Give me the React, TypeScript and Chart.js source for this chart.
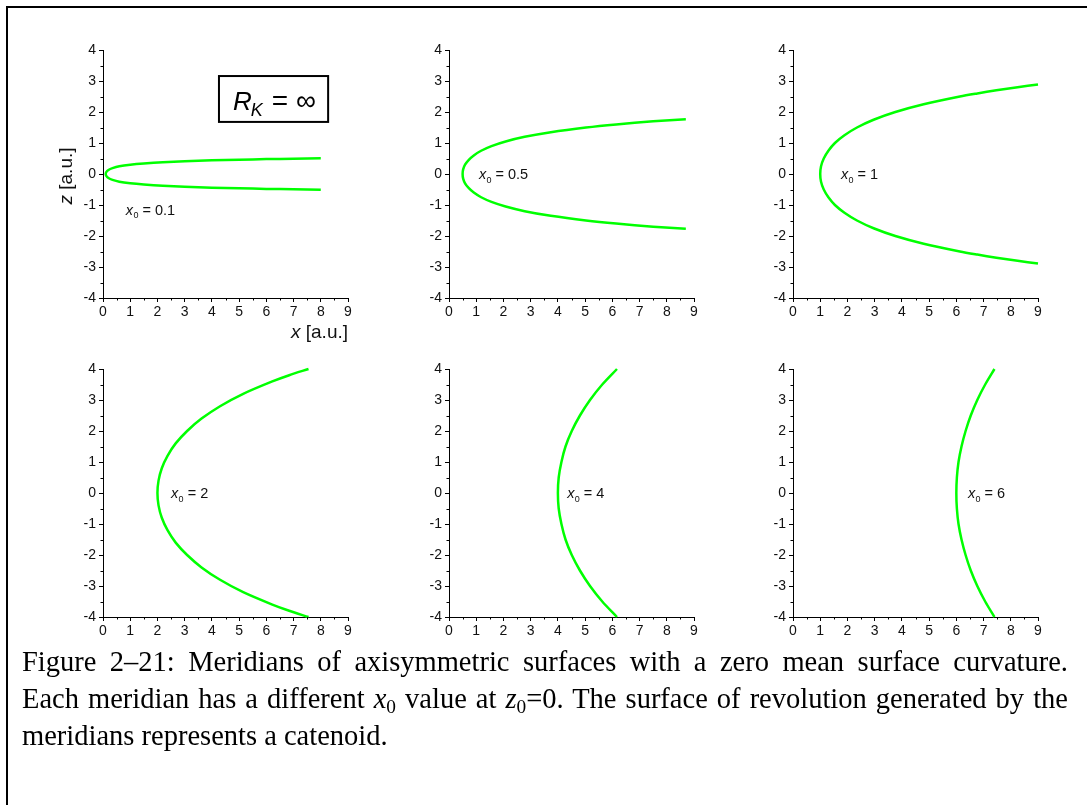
import React, { useEffect, useRef } from 'react';
import { Chart, registerables } from 'chart.js';

Chart.register(...registerables);

// ---------- data ----------
const X_TICKS = [0, 1, 2, 3, 4, 5, 6, 7, 8, 9];
const Z_TICKS = [-4, -3, -2, -1, 0, 1, 2, 3, 4];
const X_MINOR = [0.5, 1.5, 2.5, 3.5, 4.5, 5.5, 6.5, 7.5, 8.5];
const Z_MINOR = [-3.5, -2.5, -1.5, -0.5, 0.5, 1.5, 2.5, 3.5];

// x0 = 0.1
const curve1X = [8.0, 7.0, 6.0, 5.0, 4.0, 3.0, 2.2, 1.5, 1.0, 0.6, 0.35, 0.2, 0.12, 0.1, 0.12, 0.2, 0.35, 0.6, 1.0, 1.5, 2.2, 3.0, 4.0, 5.0, 6.0, 7.0, 8.0];
const curve1Z = [0.51, 0.49, 0.48, 0.46, 0.44, 0.41, 0.38, 0.34, 0.3, 0.25, 0.19, 0.13, 0.06, 0, -0.06, -0.13, -0.19, -0.25, -0.3, -0.34, -0.38, -0.41, -0.44, -0.46, -0.48, -0.49, -0.51];
// x0 = 0.5
const curve2X = [8.7, 7.5, 6.14, 5.03, 3.74, 2.78, 2.08, 1.56, 1.18, 0.91, 0.72, 0.59, 0.52, 0.5, 0.52, 0.59, 0.72, 0.91, 1.18, 1.56, 2.08, 2.78, 3.74, 5.03, 6.14, 7.5, 8.7];
const curve2Z = [1.77, 1.7, 1.6, 1.5, 1.35, 1.2, 1.05, 0.9, 0.75, 0.6, 0.45, 0.3, 0.15, 0, -0.15, -0.3, -0.45, -0.6, -0.75, -0.9, -1.05, -1.2, -1.35, -1.5, -1.6, -1.7, -1.77];
// x0 = 1
const curve3X = [9.0, 8.25, 7.47, 6.77, 6.13, 4.8, 3.76, 2.96, 2.35, 1.89, 1.54, 1.3, 1.13, 1.03, 1.0, 1.03, 1.13, 1.3, 1.54, 1.89, 2.35, 2.96, 3.76, 4.8, 6.13, 6.77, 7.47, 8.25, 9.0];
const curve3Z = [2.89, 2.8, 2.7, 2.6, 2.5, 2.25, 2.0, 1.75, 1.5, 1.25, 1.0, 0.75, 0.5, 0.25, 0, -0.25, -0.5, -0.75, -1.0, -1.25, -1.5, -1.75, -2.0, -2.25, -2.5, -2.6, -2.7, -2.8, -2.89];
// x0 = 2
const curve4X = [7.55, 6.84, 6.22, 5.15, 4.3, 3.62, 3.09, 2.67, 2.37, 2.16, 2.04, 2.0, 2.04, 2.16, 2.37, 2.67, 3.09, 3.62, 4.3, 5.15, 6.22, 6.84, 7.55];
const curve4Z = [4, 3.8, 3.6, 3.2, 2.8, 2.4, 2.0, 1.6, 1.2, 0.8, 0.4, 0, -0.4, -0.8, -1.2, -1.6, -2.0, -2.4, -2.8, -3.2, -3.6, -3.8, -4];
// x0 = 4
const curve5X = [6.17, 5.63, 5.18, 4.81, 4.51, 4.28, 4.13, 4.03, 4.0, 4.03, 4.13, 4.28, 4.51, 4.81, 5.18, 5.63, 6.17];
const curve5Z = [4, 3.5, 3, 2.5, 2, 1.5, 1, 0.5, 0, -0.5, -1, -1.5, -2, -2.5, -3, -3.5, -4];
// x0 = 6
const curve6X = [7.4, 7.06, 6.77, 6.53, 6.34, 6.19, 6.08, 6.02, 6.0, 6.02, 6.08, 6.19, 6.34, 6.53, 6.77, 7.06, 7.4];
const curve6Z = [4, 3.5, 3, 2.5, 2, 1.5, 1, 0.5, 0, -0.5, -1, -1.5, -2, -2.5, -3, -3.5, -4];

const X0_LABELS = ['0.1', '0.5', '1', '2', '4', '6'];
const LABEL_X = [0.84, 1.1, 1.76, 2.5, 4.34, 6.43];
const LABEL_Z = [-1.16, 0, 0, 0, 0, 0];

// R_K box anchor (data units of the first panel)
const RK_BOX = [4.26, 3.16, 8.27, 1.68];

// ---------- layout / style ----------
const GREEN = '#00ff00';
const SANS = '"Liberation Sans", Arial, sans-serif';
const SERIF = '"Liberation Serif", "Times New Roman", serif';
const PLOT_W = 245;
const PLOT_H = 248;
const PAD_L = 62;
const PAD_T = 14;
const PAD_R = 14;
const PAD_B = 46;
const CW = PAD_L + PLOT_W + PAD_R;
const CH = PAD_T + PLOT_H + PAD_B;
const COL_LEFT = [103, 449, 793];
const ROW_TOP = [50, 369];

const minorTicks = {
  id: 'minorTicks',
  afterDraw(chart: any) {
    const { ctx, chartArea, scales } = chart;
    ctx.save();
    ctx.strokeStyle = '#000';
    ctx.lineWidth = 1;
    ctx.beginPath();
    X_MINOR.forEach((v) => {
      const px = Math.round(scales.x.getPixelForValue(v)) + 0.5;
      ctx.moveTo(px, chartArea.bottom);
      ctx.lineTo(px, chartArea.bottom + 2.5);
    });
    Z_MINOR.forEach((v) => {
      const py = Math.round(scales.y.getPixelForValue(v)) + 0.5;
      ctx.moveTo(chartArea.left, py);
      ctx.lineTo(chartArea.left - 2.5, py);
    });
    ctx.stroke();
    ctx.restore();
  },
};

function drawX0(ctx: CanvasRenderingContext2D, px: number, py: number, val: string) {
  ctx.fillStyle = '#111';
  ctx.textBaseline = 'alphabetic';
  ctx.textAlign = 'left';
  ctx.font = `italic 14.5px ${SANS}`;
  ctx.fillText('x', px, py);
  let x = px + ctx.measureText('x').width + 0.3;
  ctx.font = `9px ${SANS}`;
  ctx.fillText('0', x, py + 3.5);
  x += ctx.measureText('0').width;
  ctx.font = `14.5px ${SANS}`;
  ctx.fillText(' = ' + val, x, py);
}

function makeLabelPlugin(idx: number) {
  return {
    id: 'labels' + idx,
    afterDraw(chart: any) {
      const { ctx, chartArea, scales } = chart;
      const sx = scales.x;
      const sy = scales.y;
      ctx.save();
      drawX0(ctx, sx.getPixelForValue(LABEL_X[idx]), sy.getPixelForValue(LABEL_Z[idx]) + 5, X0_LABELS[idx]);
      if (idx === 0) {
        // R_K = infinity box
        const bl = sx.getPixelForValue(RK_BOX[0]);
        const bt = sy.getPixelForValue(RK_BOX[1]);
        const br = sx.getPixelForValue(RK_BOX[2]);
        const bb = sy.getPixelForValue(RK_BOX[3]);
        ctx.fillStyle = '#fff';
        ctx.fillRect(bl, bt, br - bl, bb - bt);
        ctx.strokeStyle = '#000';
        ctx.lineWidth = 2;
        ctx.strokeRect(bl, bt, br - bl, bb - bt);
        ctx.fillStyle = '#000';
        const base = bt + 34;
        let x = bl + 14;
        ctx.font = `italic 26px ${SANS}`;
        ctx.fillText('R', x, base);
        x += ctx.measureText('R').width - 1;
        ctx.font = `italic 18px ${SANS}`;
        ctx.fillText('K', x, base + 6);
        x += ctx.measureText('K').width + 9;
        ctx.font = `28px ${SANS}`;
        ctx.fillText('=', x, base);
        x += ctx.measureText('=').width + 8;
        ctx.fillText('\u221E', x, base);

        // axis titles
        ctx.fillStyle = '#111';
        ctx.font = `italic 19px ${SANS}`;
        const wx = ctx.measureText('x').width;
        ctx.font = `19px ${SANS}`;
        const wr = ctx.measureText(' [a.u.]').width;
        const xs = chartArea.right - wx - wr;
        const xb = chartArea.bottom + 40;
        ctx.font = `italic 19px ${SANS}`;
        ctx.fillText('x', xs, xb);
        ctx.font = `19px ${SANS}`;
        ctx.fillText(' [a.u.]', xs + wx, xb);

        ctx.save();
        ctx.translate(chartArea.left - 31, sy.getPixelForValue(0) + 2);
        ctx.rotate(-Math.PI / 2);
        ctx.font = `italic 19px ${SANS}`;
        const wz = ctx.measureText('z').width;
        ctx.font = `19px ${SANS}`;
        const wr2 = ctx.measureText(' [a.u.]').width;
        const start = -(wz + wr2) / 2;
        ctx.font = `italic 19px ${SANS}`;
        ctx.fillText('z', start, 0);
        ctx.font = `19px ${SANS}`;
        ctx.fillText(' [a.u.]', start + wz, 0);
        ctx.restore();
      }
      ctx.restore();
    },
  };
}

const PANELS = [
  { xs: curve1X, zs: curve1Z, col: 0, row: 0 },
  { xs: curve2X, zs: curve2Z, col: 1, row: 0 },
  { xs: curve3X, zs: curve3Z, col: 2, row: 0 },
  { xs: curve4X, zs: curve4Z, col: 0, row: 1 },
  { xs: curve5X, zs: curve5Z, col: 1, row: 1 },
  { xs: curve6X, zs: curve6Z, col: 2, row: 1 },
];

function Panel({ idx }: { idx: number }) {
  const ref = useRef<HTMLCanvasElement>(null);
  const p = PANELS[idx];
  useEffect(() => {
    const tickFont = { family: SANS, size: 14 };
    const chart = new Chart(ref.current as HTMLCanvasElement, {
      type: 'scatter',
      data: {
        datasets: [
          {
            data: p.xs.map((x, i) => ({ x, y: p.zs[i] })),
            showLine: true,
            borderColor: GREEN,
            backgroundColor: GREEN,
            borderWidth: 2.5,
            pointRadius: 0,
            pointHoverRadius: 0,
            tension: 0.3,
            fill: false,
            clip: 6,
          } as any,
        ],
      },
      options: {
        animation: false,
        responsive: false,
        maintainAspectRatio: false,
        events: [],
        layout: { padding: { top: PAD_T, right: PAD_R, left: 0, bottom: 0 } },
        plugins: { legend: { display: false }, tooltip: { enabled: false } },
        scales: {
          x: {
            type: 'linear',
            position: 'bottom',
            min: X_TICKS[0],
            max: X_TICKS[X_TICKS.length - 1],
            afterBuildTicks: (s: any) => {
              s.ticks = X_TICKS.map((v) => ({ value: v }));
            },
            ticks: { font: tickFont, color: '#111', padding: 2, maxRotation: 0, autoSkip: false },
            grid: { display: true, drawOnChartArea: false, drawTicks: true, tickLength: 4, tickColor: '#000', tickWidth: 1 },
            border: { display: true, color: '#000', width: 1 },
            afterFit: (s: any) => {
              s.height = PAD_B;
            },
          },
          y: {
            type: 'linear',
            position: 'left',
            min: Z_TICKS[0],
            max: Z_TICKS[Z_TICKS.length - 1],
            afterBuildTicks: (s: any) => {
              s.ticks = Z_TICKS.map((v) => ({ value: v }));
            },
            ticks: { font: tickFont, color: '#111', padding: 3, autoSkip: false },
            grid: { display: true, drawOnChartArea: false, drawTicks: true, tickLength: 4, tickColor: '#000', tickWidth: 1 },
            border: { display: true, color: '#000', width: 1 },
            afterFit: (s: any) => {
              s.width = PAD_L;
            },
          },
        },
      } as any,
      plugins: [minorTicks, makeLabelPlugin(idx)],
    });
    return () => chart.destroy();
  }, []);
  return (
    <canvas
      ref={ref}
      width={CW}
      height={CH}
      style={{
        position: 'absolute',
        left: COL_LEFT[p.col] - PAD_L,
        top: ROW_TOP[p.row] - PAD_T,
        width: CW,
        height: CH,
      }}
    />
  );
}

const sub: React.CSSProperties = { fontSize: '0.68em', position: 'relative', top: '0.28em', lineHeight: 0 };

export default function App() {
  const lineStyle: React.CSSProperties = {
    height: 37,
    lineHeight: '37px',
    whiteSpace: 'nowrap',
    textAlign: 'justify',
  };
  return (
    <div
      style={{
        position: 'fixed',
        left: 0,
        top: 0,
        width: 1087,
        height: 805,
        overflow: 'hidden',
        background: '#fff',
      }}
    >
      <div
        style={{
          position: 'absolute',
          left: 6,
          top: 6,
          width: 1200,
          height: 1000,
          borderLeft: '2px solid #000',
          borderTop: '2px solid #000',
        }}
      />
      {PANELS.map((_, i) => (
        <Panel key={i} idx={i} />
      ))}
      <div
        style={{
          position: 'absolute',
          left: 22,
          top: 643,
          width: 1046,
          fontFamily: SERIF,
          fontSize: 28.5,
          color: '#000',
        }}
      >
        <div style={{ ...lineStyle, textAlignLast: 'justify' } as React.CSSProperties}>
          Figure 2–21: Meridians of axisymmetric surfaces with a zero mean surface curvature.
        </div>
        <div style={{ ...lineStyle, textAlignLast: 'justify' } as React.CSSProperties}>
          Each meridian has a different <i>x</i>
          <span style={sub}>0</span> value at <i>z</i>
          <span style={sub}>0</span>=0. The surface of revolution generated by the
        </div>
        <div style={{ ...lineStyle, textAlign: 'left' }}>meridians represents a catenoid.</div>
      </div>
    </div>
  );
}
